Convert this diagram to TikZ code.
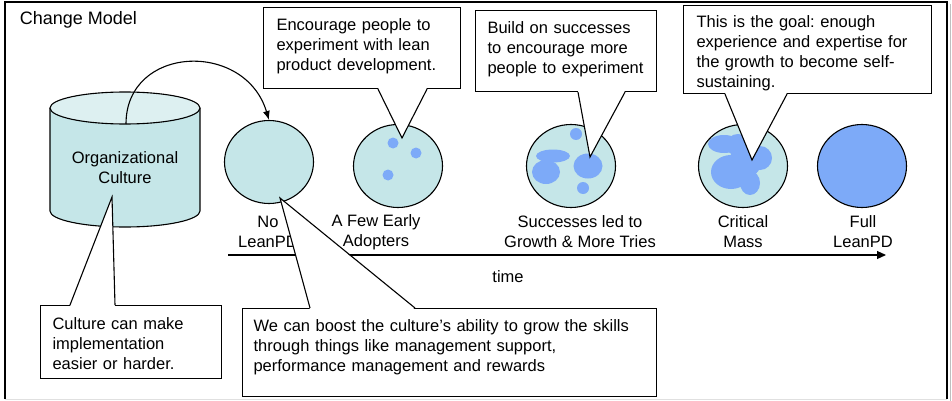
\documentclass[tikz,border=0pt]{standalone}
\usepackage{fontspec}
\setmainfont{Liberation Sans}
\usetikzlibrary{positioning,arrows.meta,shapes.geometric}
\frenchspacing

\definecolor{tealfill}{HTML}{C5E6E8}
\definecolor{tealtop}{HTML}{DDF0F1}
\definecolor{leanblue}{HTML}{7DAAF8}

\tikzset{
  stage/.style={ellipse, draw, fill=tealfill, minimum width=89pt, minimum height=83pt, inner sep=0pt},
  stagelabel/.style={align=center, inner sep=0pt},
  callbox/.style={draw, fill=white, align=left, inner ysep=0pt, anchor=north west},
  blob/.style={fill=leanblue},
}

\begin{document}
\begin{tikzpicture}[x=1pt, y=-1pt, >=Latex, line width=1.1pt, font=\fontsize{16.5}{20}\selectfont]
    \useasboundingbox (0,0) rectangle (952,401);

    % outer frame
    \draw (5,399) -- (5,2) -- (947,2) -- (947,399);
    \draw[black!25, line width=0.8pt] (950,4) -- (950,401);
    \draw[black!12, line width=0.8pt] (5,399.5) -- (947,399.5);

    \node[anchor=west, font=\fontsize{18}{21}\selectfont] (title) at (16,20) {Change Model};

    % culture drum
    \fill[tealfill] (50,108) rectangle (200,211);
    \fill[tealfill] (125,211) ellipse [x radius=75pt, y radius=16pt];
    \draw (50,108) -- (50,211) arc [start angle=180, end angle=360, x radius=75pt, y radius=16pt] -- (200,108);
    \filldraw[fill=tealtop] (125,108) ellipse [x radius=75pt, y radius=16pt];
    \node[align=center] (culture) at (125,168) {Organizational\\Culture};
    \coordinate (culturerim) at (126,124);

    % stages along the time axis
    \node[stage] (s1) at (269,162) {};
    \node[stage] (s2) at (398,166) {};
    \node[stage] (s3) at (571,166) {};
    \node[stage] (s4) at (743,166) {};
    \node[stage, fill=leanblue] (s5) at (862,166) {};

    % spots of lean practice
    \foreach \p in {(393,143),(416,153),(388,175)}
        \fill[blob] \p circle [radius=5.5pt];

    \fill[blob] (576,134) circle [radius=6pt];
    \fill[blob] (553,156) ellipse [x radius=17pt, y radius=6.5pt];
    \fill[blob] (546,172) ellipse [x radius=14pt, y radius=12pt];
    \fill[blob] (588,166) ellipse [x radius=14.5pt, y radius=12.5pt];
    \fill[blob] (583,188) circle [radius=6pt];

    \fill[blob] (724,144) ellipse [x radius=16pt, y radius=9pt];
    \fill[blob] (738,145) ellipse [x radius=12pt, y radius=11pt];
    \fill[blob] (760,158) circle [radius=12pt];
    \fill[blob] (745,162) circle [radius=16pt];
    \fill[blob] (731,172) ellipse [x radius=20pt, y radius=17pt];
    \fill[blob] (750,183) ellipse [x radius=10pt, y radius=12pt];

    % stage names
    \node[stagelabel] (l1) at (268,232) {No\\LeanPD};
    \node[stagelabel] (l2) at (376,232) {A Few Early\\Adopters};
    \node[stagelabel] (l3) at (580,232) {Successes led to\\Growth \& More Tries};
    \node[stagelabel] (l4) at (743,232) {Critical\\Mass};
    \node[stagelabel] (l5) at (863,232) {Full\\LeanPD};

    % time axis
    \coordinate (tstart) at (228,255);
    \coordinate (tend) at (886,255);
    \draw[-{Triangle[length=9pt,width=8pt]}] (tstart) -- (tend);
    \node (time) at (508,277) {time};

    % culture feeds the start
    \draw[-{Latex[length=9pt,width=7pt]}] (culturerim) .. controls (126,45) and (245,40) .. (s1.north);

    % callout boxes
    \node[callbox, inner xsep=13pt, text width=171pt, text height=23pt, text depth=58pt] (encbox) at (263,7)
        {Encourage people to\\experiment with lean\\product development.};
    \node[callbox, inner xsep=12pt, text width=157pt, text height=23pt, text depth=58pt] (buildbox) at (475,10)
        {Build on successes\\to encourage more\\people to experiment};
    \node[callbox, inner xsep=13pt, text width=222pt, text height=22pt, text depth=66pt] (goalbox) at (683,5)
        {This is the goal: enough\\experience and expertise for\\the growth to become self-\\sustaining.};
    \node[callbox, inner xsep=12pt, text width=157pt, text height=24pt, text depth=49pt] (culturebox) at (40,305)
        {Culture can make\\implementation\\easier or harder.};
    \node[callbox, inner xsep=11pt, text width=392pt, text height=23pt, text depth=65pt] (boostbox) at (242,308)
        {We can boost the culture’s ability to grow the skills\\through things like management support,\\performance management and rewards};

    % pointers of the callouts
    \coordinate (enctip) at (402,138);
    \coordinate (buildtip) at (590,157);
    \coordinate (goaltip) at (752,160);
    \coordinate (culturetip) at (112,197);
    \coordinate (boosttip) at (280,198);

    \foreach \b/\t/\l/\r/\c/\d in {encbox/enctip/115/164/south west/1.5,
                                 buildbox/buildtip/103/150/south west/1.5,
                                 goalbox/goaltip/42/104/south west/1.5,
                                 culturebox/culturetip/30/75/north west/-1.5,
                                 boostbox/boosttip/68/173/north west/-1.5} {
        \fill[white] ([xshift=\l pt, yshift=\d pt]\b.\c) -- (\t) -- ([xshift=\r pt, yshift=\d pt]\b.\c) -- cycle;
        \draw ([xshift=\l pt]\b.\c) -- (\t) -- ([xshift=\r pt]\b.\c);
    }

\end{tikzpicture}
\end{document}
